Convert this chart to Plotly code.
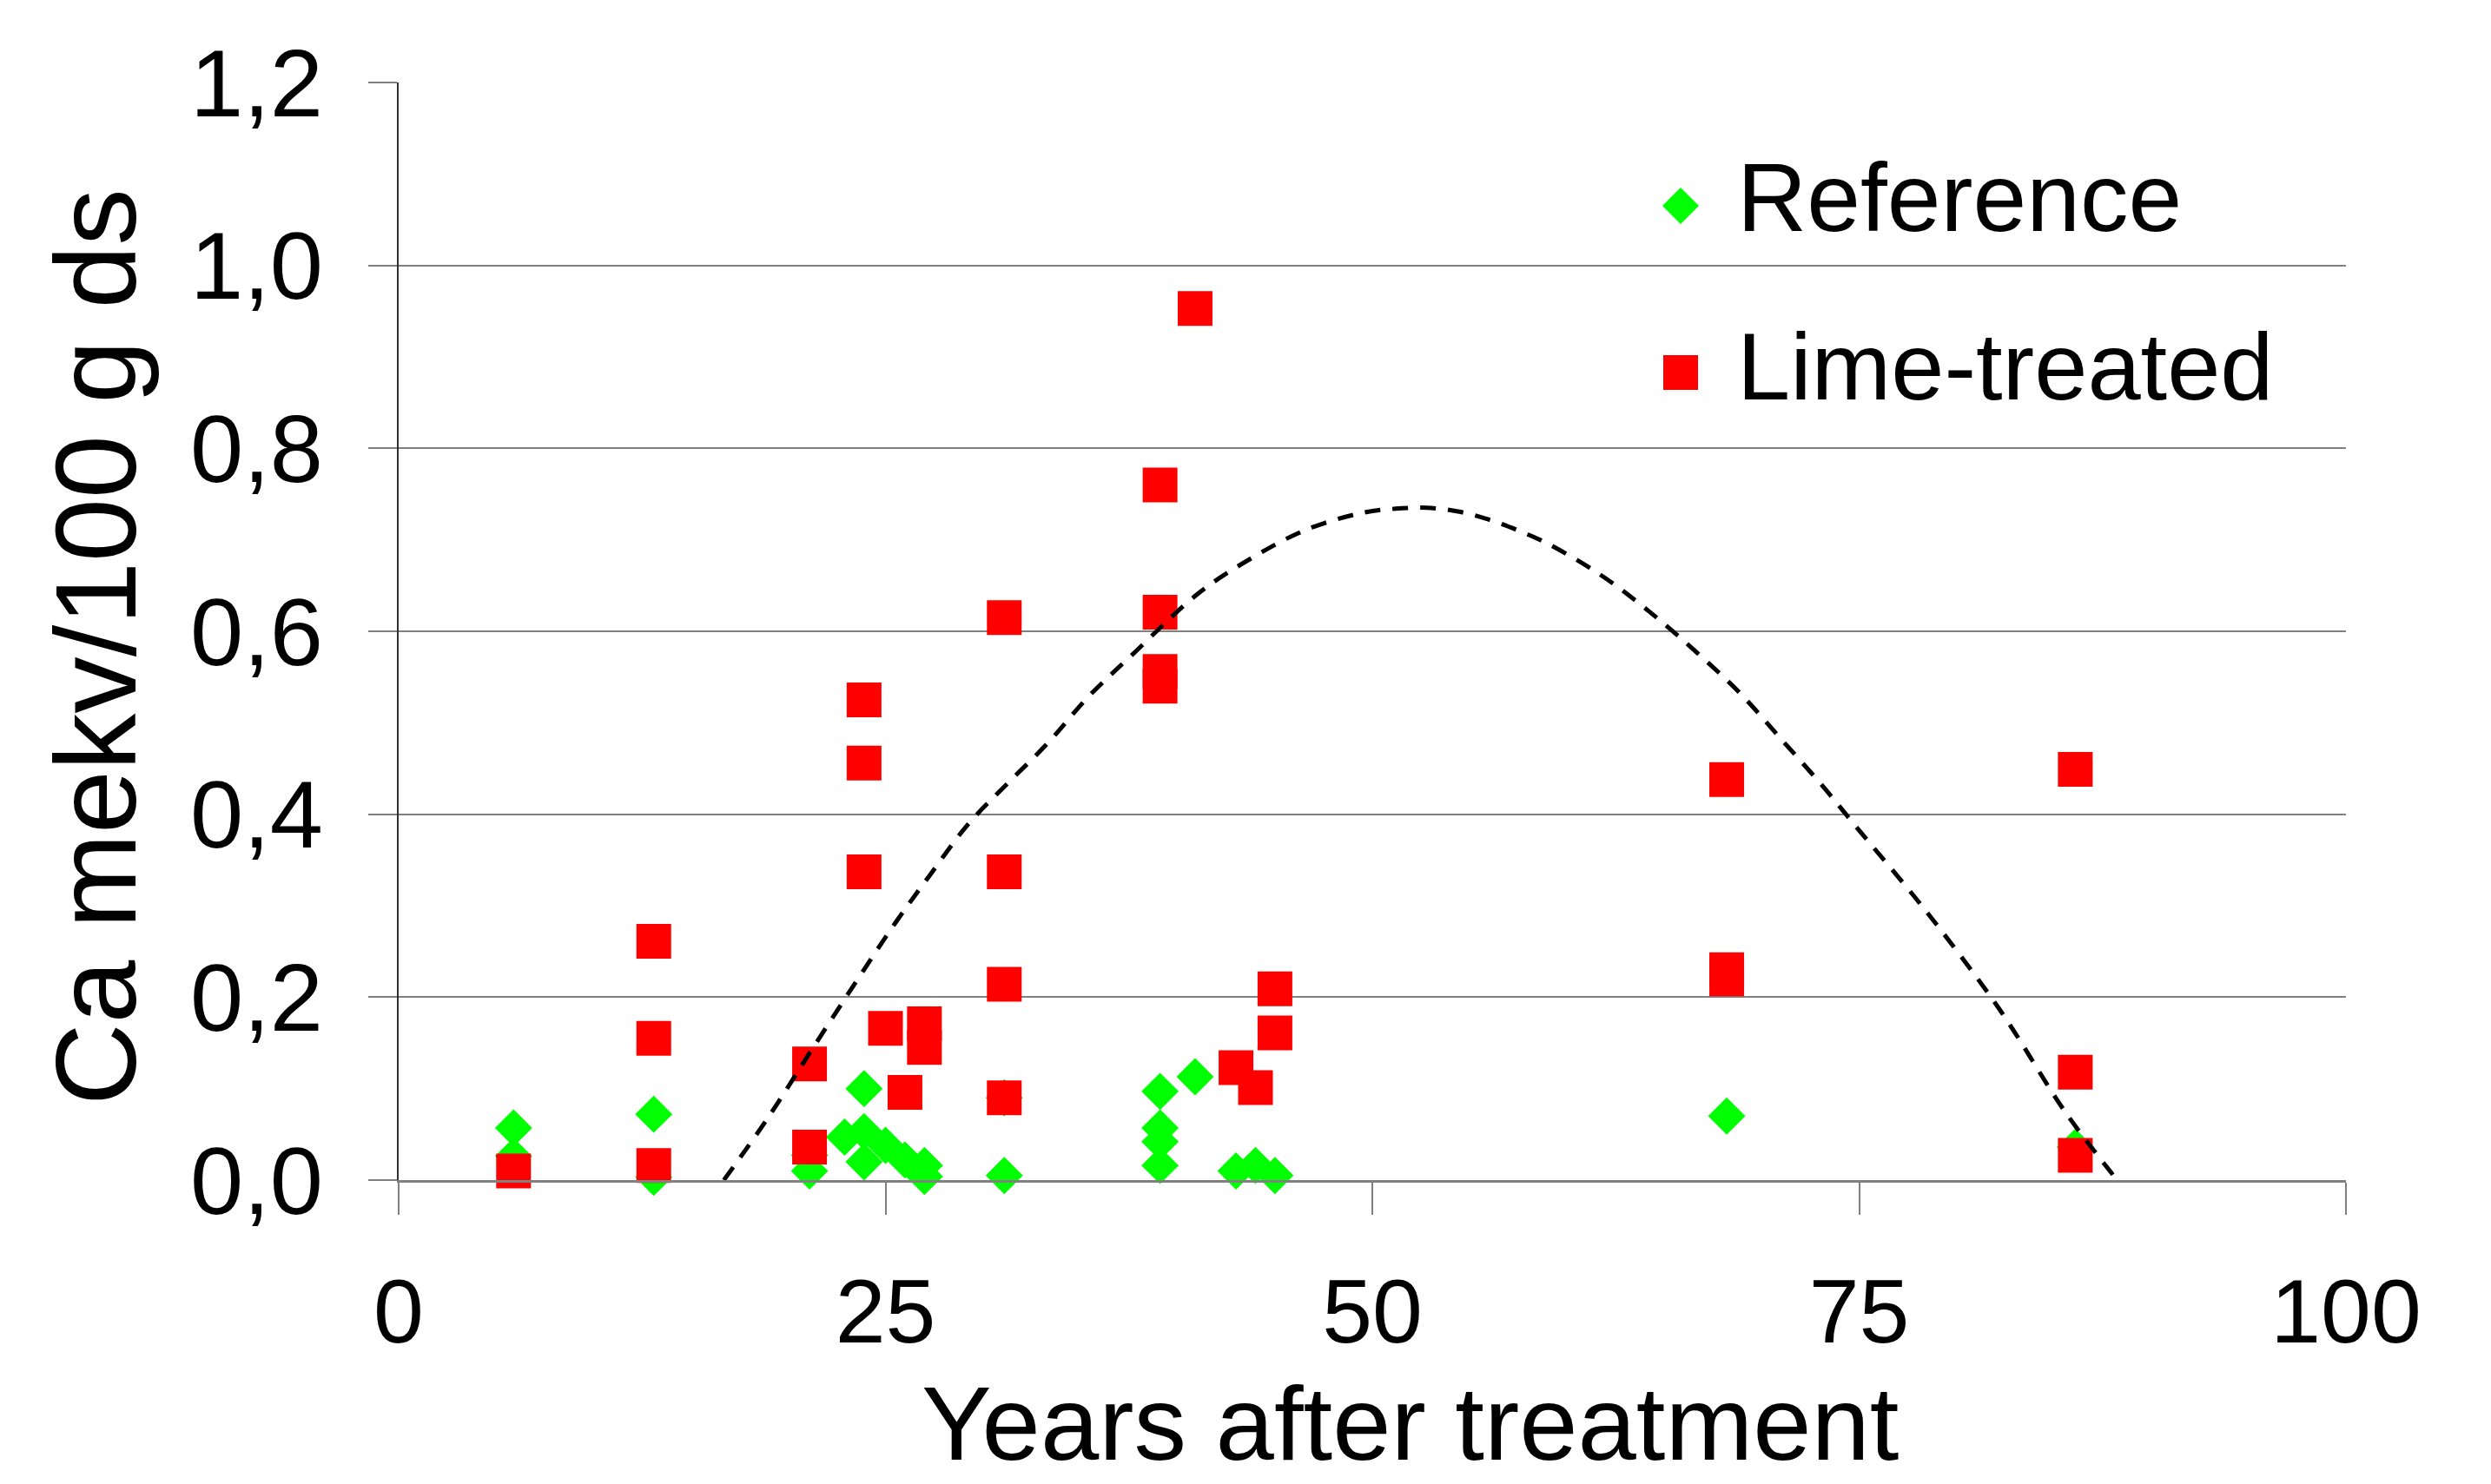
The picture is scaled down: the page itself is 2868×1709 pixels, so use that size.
import plotly.graph_objects as go

# ---------------- data ----------------
ref_years = [5.9, 5.9, 13.1, 13.1, 21.1, 21.1, 22.9, 23.9, 23.9, 23.9, 25.0, 26.0,
             27.0, 27.0, 31.1, 31.1, 39.1, 39.1, 39.1, 39.1, 40.9, 43.0, 44.0, 45.0,
             68.2, 86.1]
ref_ca = [0.057, 0.026, 0.072, 0.003, 0.027, 0.010, 0.047, 0.100, 0.053, 0.020, 0.038, 0.022,
          0.016, 0.004, 0.090, 0.005, 0.097, 0.057, 0.042, 0.016, 0.113, 0.010, 0.016, 0.005,
          0.070, 0.036]

lime_years = [5.9, 13.1, 13.1, 13.1, 21.1, 21.1, 23.9, 23.9, 23.9, 25.0, 26.0, 27.0, 27.0,
              31.1, 31.1, 31.1, 31.1, 39.1, 39.1, 39.1, 39.1, 40.9, 43.0, 44.0, 45.0, 45.0,
              68.2, 68.2, 68.2, 86.1, 86.1, 86.1]
lime_ca = [0.010, 0.261, 0.155, 0.016, 0.127, 0.036, 0.525, 0.456, 0.337, 0.166, 0.096, 0.171, 0.145,
           0.615, 0.337, 0.214, 0.090, 0.760, 0.621, 0.556, 0.540, 0.953, 0.123, 0.101, 0.209, 0.161,
           0.438, 0.230, 0.220, 0.449, 0.118, 0.027]

# dashed trend curve
trend_years = [16.7, 18.9, 21.2, 23.4, 25.5, 27.3, 29.2, 31.0, 33.3, 35.4, 37.8, 41.1, 43.8,
               46.6, 49.6, 51.2, 52.8, 54.4, 56.0, 57.4, 58.9, 61.7, 64.2, 66.6, 68.9, 71.0,
               73.2, 74.7, 78.4, 82.2, 85.6, 88.25]
trend_ca = [0.0, 0.066, 0.142, 0.214, 0.281, 0.334, 0.388, 0.428, 0.477, 0.528, 0.577, 0.642, 0.680,
            0.711, 0.730, 0.734, 0.735, 0.731, 0.722, 0.711, 0.697, 0.662, 0.622, 0.578, 0.532, 0.482,
            0.429, 0.390, 0.295, 0.187, 0.074, 0.0]

x_ticks = [0, 25, 50, 75, 100]
y_ticks = [0.0, 0.2, 0.4, 0.6, 0.8, 1.0, 1.2]
series_names = ["Reference", "Lime-treated"]

# ---------------- styling ----------------
W, H = 2868, 1709
ML, MR, MT, MB = 459, 167, 95, 350
PW, PH = W - ML - MR, H - MT - MB
FONT = "Liberation Sans, Arial, sans-serif"
GREEN, RED = "#00FF00", "#FF0000"


def px_x(p):
    return (p - ML) / PW


def px_y(p):
    return (H - MB - p) / PH


fig = go.Figure()
fig.add_trace(go.Scatter(x=ref_years, y=ref_ca, mode="markers", name=series_names[0],
                         marker=dict(symbol="diamond", size=33, color=GREEN, line=dict(width=0)),
                         showlegend=False, cliponaxis=False))
fig.add_trace(go.Scatter(x=lime_years, y=lime_ca, mode="markers", name=series_names[1],
                         marker=dict(symbol="square", size=40, color=RED, line=dict(width=0)),
                         showlegend=False, cliponaxis=False))
fig.add_trace(go.Scatter(x=trend_years, y=trend_ca, mode="lines", name="Trend",
                         line=dict(color="black", width=5, dash="18px,14px", shape="spline"),
                         showlegend=False))

# legend box (custom so the keys keep the marker size)
shapes = [
    dict(type="rect", xref="paper", yref="paper", layer="between",
         x0=px_x(1811), x1=px_x(2689), y0=px_y(550), y1=px_y(125),
         fillcolor="white", line=dict(width=0)),
    dict(type="path", xref="paper", yref="paper", layer="above",
         xsizemode="pixel", ysizemode="pixel", xanchor=px_x(1935), yanchor=px_y(237),
         path="M 0 21 L 21 0 L 0 -21 L -21 0 Z", fillcolor=GREEN, line=dict(width=0)),
    dict(type="rect", xref="paper", yref="paper", layer="above",
         xsizemode="pixel", ysizemode="pixel", xanchor=px_x(1935), yanchor=px_y(429),
         x0=-20, x1=20, y0=-20, y1=20, fillcolor=RED, line=dict(width=0)),
]

annotations = [
    dict(text=series_names[0], xref="paper", yref="paper", x=px_x(1998), y=px_y(228),
         xanchor="left", yanchor="middle", showarrow=False,
         font=dict(family=FONT, size=111, color="black")),
    dict(text=series_names[1], xref="paper", yref="paper", x=px_x(1998), y=px_y(421),
         xanchor="left", yanchor="middle", showarrow=False,
         font=dict(family=FONT, size=110, color="black")),
    dict(text="Years after treatment", xref="paper", yref="paper", x=px_x(1623), y=px_y(1709),
         xanchor="center", yanchor="bottom", showarrow=False,
         font=dict(family=FONT, size=121, color="black")),
    dict(text="Ca mekv/100 g ds", xref="paper", yref="paper", x=px_x(110), y=px_y(745),
         xanchor="center", yanchor="middle", showarrow=False, textangle=-90,
         font=dict(family=FONT, size=131, color="black")),
]

fig.update_layout(
    width=W, height=H, autosize=False,
    margin=dict(l=ML, r=MR, t=MT, b=MB, pad=0),
    paper_bgcolor="white", plot_bgcolor="white",
    separators=", ",
    font=dict(family=FONT, color="black"),
    showlegend=False,
    shapes=shapes,
    annotations=annotations,
    xaxis=dict(range=[0, 100], tickmode="array", tickvals=x_ticks,
               showgrid=False, zeroline=False,
               showline=True, linecolor="#808080", linewidth=3,
               ticks="outside", ticklen=37, tickwidth=2, tickcolor="#808080",
               ticklabelstandoff=22,
               tickfont=dict(family=FONT, size=104, color="black")),
    yaxis=dict(range=[0, 1.2], tickmode="array", tickvals=y_ticks, tickformat=".1f",
               showgrid=True, gridcolor="#808080", gridwidth=2, zeroline=False,
               showline=True, linecolor="#303030", linewidth=2,
               ticks="outside", ticklen=33, tickwidth=2, tickcolor="#808080",
               ticklabelstandoff=30,
               tickfont=dict(family=FONT, size=110, color="black")),
)

fig.write_html("out.html", config={"displayModeBar": False},
               post_script="document.body.style.margin='0';")
